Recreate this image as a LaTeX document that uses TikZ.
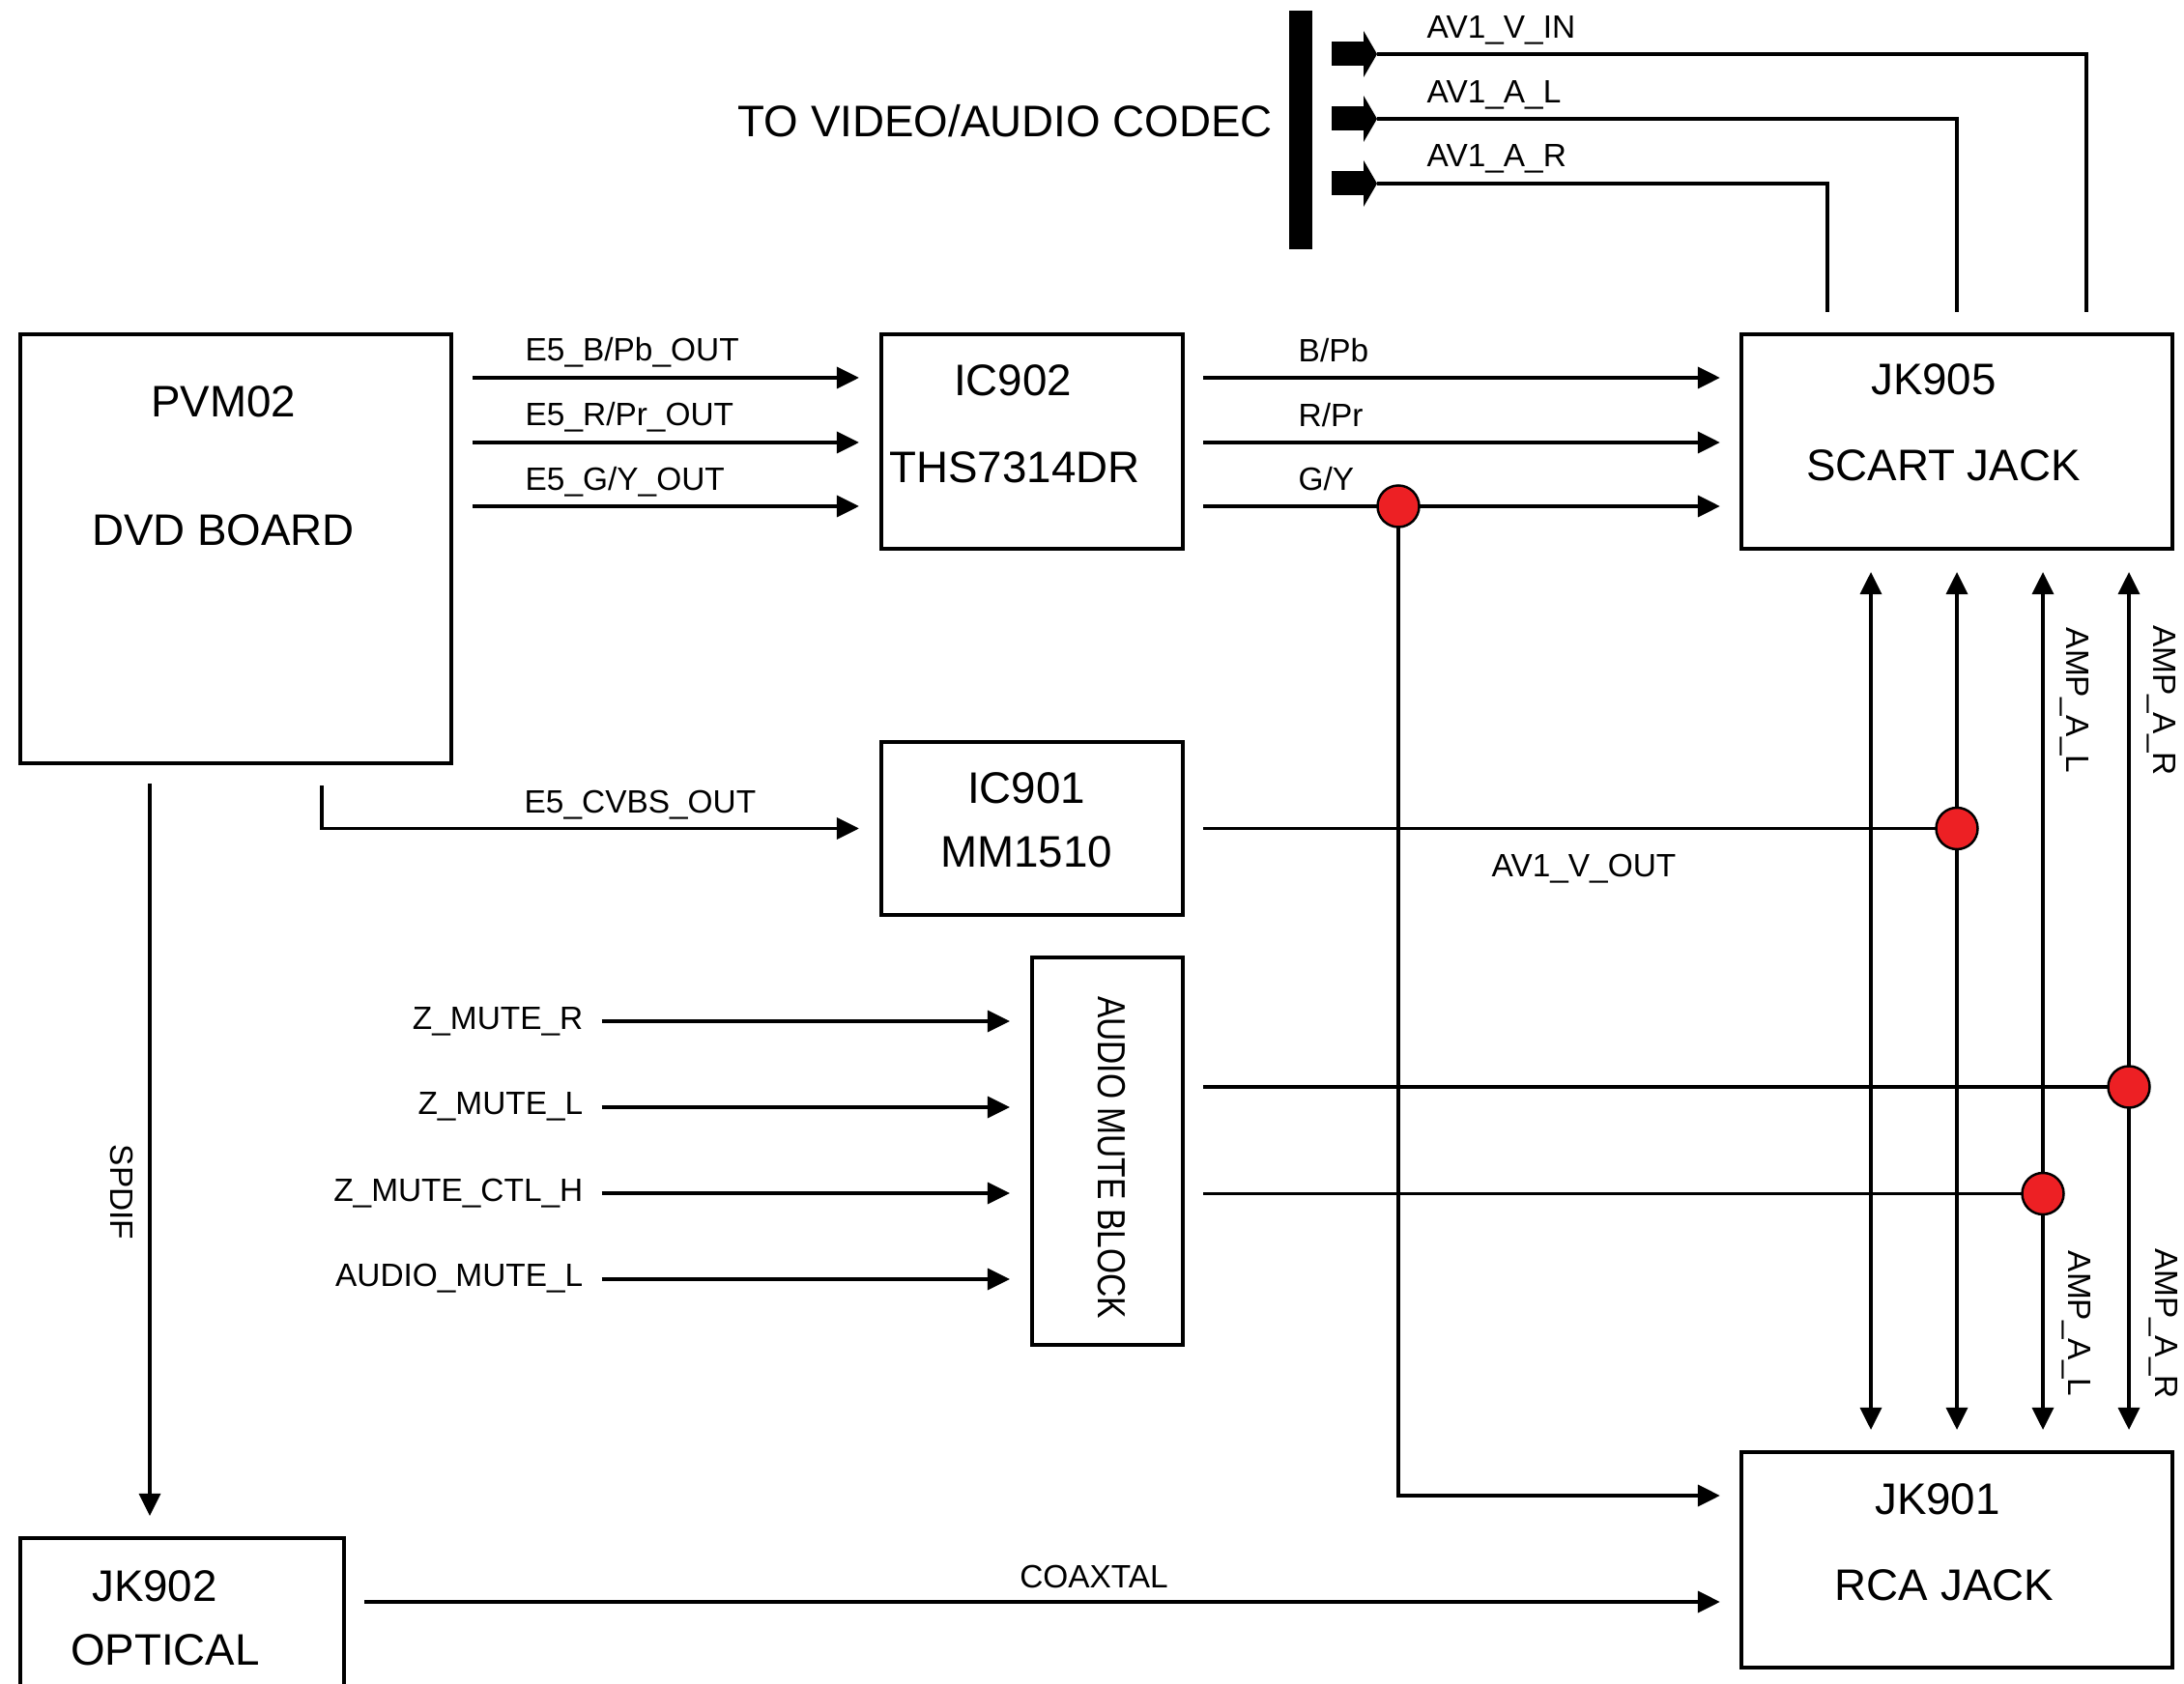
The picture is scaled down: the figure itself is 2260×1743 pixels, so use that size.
\documentclass[tikz,border=0pt]{standalone}
\usepackage{fontspec}
\usepackage{graphicx}
\setmainfont{Liberation Sans}
\usetikzlibrary{arrows.meta}
\definecolor{dotred}{RGB}{237,32,36}
\begin{document}
\begin{tikzpicture}[x=0.01cm,y=-0.01cm,
  box/.style={draw, line width=1pt, rectangle, inner sep=0pt, outer sep=0pt},
  big/.style={font=\fontsize{13}{15}\selectfont, inner sep=0pt},
  small/.style={font=\fontsize{9.5}{11}\selectfont, inner sep=0pt},
  wire/.style={line width=1pt},
  arr/.style={wire, -{Triangle[length=0.23cm,width=0.22cm]}},
  arrboth/.style={wire, {Triangle[length=0.23cm,width=0.22cm]}-{Triangle[length=0.23cm,width=0.22cm]}},
  dot/.style={circle, draw, line width=0.7pt, fill=dotred, minimum size=0.43cm, inner sep=0pt},
  bigarrow/.style={fill=black}]
\useasboundingbox (0,0) rectangle (2260,1743);

% boxes
\node[box, minimum width=4.46cm, minimum height=4.44cm] (pvm) at (244,568) {};
\node[box, minimum width=3.12cm, minimum height=2.22cm] (ic902) at (1068,457) {};
\node[box, minimum width=4.46cm, minimum height=2.22cm] (jk905) at (2025,457) {};
\node[box, minimum width=3.12cm, minimum height=1.79cm] (ic901) at (1068,857.5) {};
\node[box, minimum width=1.56cm, minimum height=4.01cm] (mute) at (1146,1191.5) {};
\node[box, minimum width=4.46cm, minimum height=2.23cm] (jk901) at (2025,1614.5) {};
\node[box, minimum width=3.35cm, minimum height=1.98cm] (jk902) at (188.5,1691) {};
\node[fill=black, inner sep=0pt, minimum width=0.24cm, minimum height=2.47cm] (bar) at (1346,134.5) {};

% box texts
\node[big, anchor=base] (tpvm) at (231,432) {PVM02};
\node[big, anchor=base] (tdvd) at (231,565) {DVD BOARD};
\node[big, anchor=base] (tic902) at (1048,410) {IC902};
\node[big, anchor=base] (tths) at (1050,500) {THS7314DR};
\node[big, anchor=base] (tjk905) at (2001,409) {JK905};
\node[big, anchor=base] (tscart) at (2011,498) {SCART JACK};
\node[big, anchor=base] (tic901) at (1062,832) {IC901};
\node[big, anchor=base] (tmm) at (1062,898) {MM1510};
\node[big, anchor=base] (tjk901) at (2005,1567) {JK901};
\node[big, anchor=base] (trca) at (2012,1656) {RCA JACK};
\node[big, anchor=base] (tjk902) at (160,1657) {JK902};
\node[big, anchor=base] (topt) at (171,1723) {OPTICAL};
\node[big, anchor=base west] (tcodec) at (763,142) {TO VIDEO/AUDIO CODEC};
\node[font=\fontsize{11.5}{13}\selectfont, inner sep=0pt, rotate=-90] (tmute) at (1150,1198) {\scalebox{0.83}[1]{AUDIO MUTE BLOCK}};

% signal labels
\node[small, anchor=base west] (lb) at (543,374) {E5\_B/Pb\_OUT};
\node[small, anchor=base west] (lr) at (543,441) {E5\_R/Pr\_OUT};
\node[small, anchor=base west] (lg) at (543,508) {E5\_G/Y\_OUT};
\node[small, anchor=base west] (lbp) at (1343,375) {B/Pb};
\node[small, anchor=base west] (lrp) at (1343,442) {R/Pr};
\node[small, anchor=base west] (lgy) at (1343,508) {G/Y};
\node[small, anchor=base west] (lcvbs) at (542,842) {E5\_CVBS\_OUT};
\node[small, anchor=base west] (lvout) at (1543,908) {AV1\_V\_OUT};
\node[small, anchor=base west] (lvin) at (1476,40) {AV1\_V\_IN};
\node[small, anchor=base west] (lal) at (1476,107) {AV1\_A\_L};
\node[small, anchor=base west] (lar) at (1476,173) {AV1\_A\_R};
\node[small, anchor=base] (lcoax) at (1132,1643) {COAXTAL};
\node[small, anchor=base east] (zmr) at (604,1065) {Z\_MUTE\_R};
\node[small, anchor=base east] (zml) at (604,1153) {Z\_MUTE\_L};
\node[small, anchor=base east] (zmc) at (604,1243) {Z\_MUTE\_CTL\_H};
\node[small, anchor=base east] (zam) at (604,1331) {AUDIO\_MUTE\_L};
\node[small, rotate=-90] (ampl1) at (2147,725) {AMP\_A\_L};
\node[small, rotate=-90] (ampr1) at (2237,725) {AMP\_A\_R};
\node[small, rotate=-90] (ampl2) at (2149,1370) {AMP\_A\_L};
\node[small, rotate=-90] (ampr2) at (2239,1370) {AMP\_A\_R};
\node[small, rotate=-90] (lspdif) at (126,1234) {SPDIF};

% junction points
\coordinate (jG) at (1447,524);
\coordinate (jV) at (2025,857.5);
\coordinate (jR) at (2203,1125);
\coordinate (jL) at (2114,1235.5);
\coordinate (tV) at (1425,56);
\coordinate (tL) at (1425,123);
\coordinate (tR) at (1425,190);

% component video
\foreach \y in {391,458,524} {
  \draw[arr, shorten <=0.22cm, shorten >=0.23cm] (pvm.east |- 0,\y) -- (ic902.west |- 0,\y);
  \draw[arr, shorten <=0.21cm, shorten >=0.22cm] (ic902.east |- 0,\y) -- (jk905.west |- 0,\y);
}
% CVBS
\draw[arr, shorten <=0.23cm, shorten >=0.23cm] (pvm.south -| 333,0) |- (ic901.west);
\draw[wire, shorten <=0.21cm] (ic901.east) -- (jV);
% SCART <-> RCA
\foreach \x in {1936,2025,2114,2203}
  \draw[arrboth, shorten <=0.24cm, shorten >=0.23cm] (jk905.south -| \x,0) -- (jk901.north -| \x,0);
% mute outputs
\draw[wire, shorten <=0.21cm] (mute.east |- 0,1125) -- (jR);
\draw[wire, shorten <=0.21cm] (mute.east |- 0,1235.5) -- (jL);
% mute inputs
\draw[arr, shorten <=0.185cm, shorten >=0.23cm] (zmr.east |- 0,1057) -- (mute.west |- 0,1057);
\draw[arr, shorten <=0.185cm, shorten >=0.23cm] (zml.east |- 0,1146) -- (mute.west |- 0,1146);
\draw[arr, shorten <=0.185cm, shorten >=0.23cm] (zmc.east |- 0,1235) -- (mute.west |- 0,1235);
\draw[arr, shorten <=0.185cm, shorten >=0.23cm] (zam.east |- 0,1324) -- (mute.west |- 0,1324);
% G/Y to RCA
\draw[arr, shorten >=0.22cm] (jG) |- (jk901.west |- 0,1548);
% coax
\draw[arr, shorten <=0.21cm, shorten >=0.22cm] (jk902.east |- 0,1658) -- (jk901.west |- 0,1658);
% SPDIF
\draw[arr, shorten <=0.21cm, shorten >=0.23cm] (pvm.south -| 155,0) -- (jk902.north -| 155,0);
% to codec
\draw[wire, shorten <=0.23cm] (jk905.north -| 2159,0) |- (tV);
\draw[wire, shorten <=0.23cm] (jk905.north -| 2025,0) |- (tL);
\draw[wire, shorten <=0.23cm] (jk905.north -| 1891,0) |- (tR);
\foreach \t in {tV,tL,tR} {
  \fill[bigarrow] ([shift={(-47,-12.5)}]\t) rectangle ([shift={(-13,12.5)}]\t);
  \fill[bigarrow] ([shift={(-14,-24)}]\t) -- (\t) -- ([shift={(-14,24)}]\t) -- cycle;
}
% junction dots
\node[dot] (dotG) at (jG) {};
\node[dot] (dotV) at (jV) {};
\node[dot] (dotR) at (jR) {};
\node[dot] (dotL) at (jL) {};
\end{tikzpicture}
\end{document}
